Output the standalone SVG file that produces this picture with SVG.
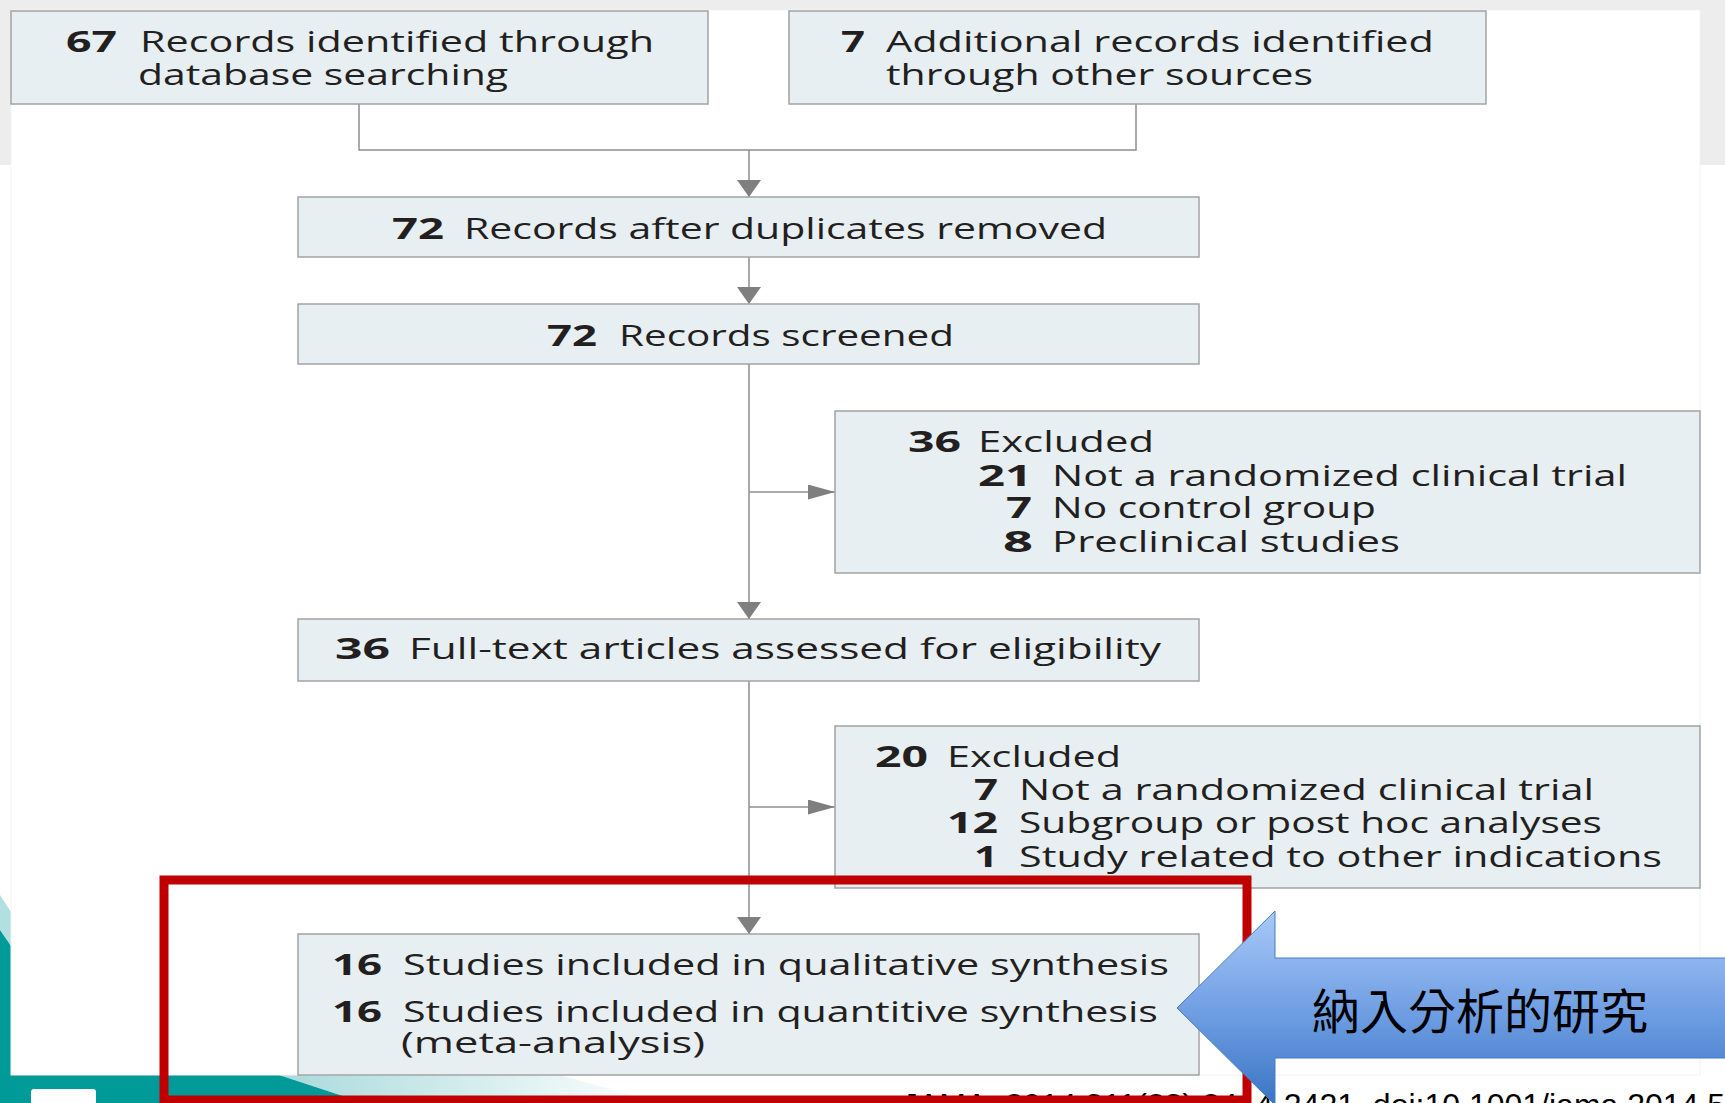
<svg xmlns="http://www.w3.org/2000/svg" width="1725" height="1103" viewBox="0 0 1725 1103">
<style>
.box{fill:#e8eff3;stroke:#a3a3a3;stroke-width:1.5}
.num{font-family:"Open Sans","Noto Sans",sans-serif;font-weight:bold;font-size:29px;fill:#231f20}
.txt{font-family:"Open Sans","Noto Sans",sans-serif;font-size:29px;fill:#231f20}
.conn{fill:none;stroke:#8e8e8e;stroke-width:1.5}
.cjk{font-family:"Noto Sans CJK TC","Noto Sans CJK SC",sans-serif;font-size:48px;fill:#000}
</style>
<defs>
<marker id="arrV" markerUnits="userSpaceOnUse" markerWidth="17" markerHeight="24" refX="17" refY="12" orient="auto"><path d="M0,0 L17,12 L0,24 Z" fill="#7f7f7f"/></marker>
<marker id="arrH" markerUnits="userSpaceOnUse" markerWidth="27" markerHeight="15" refX="27" refY="7.5" orient="auto"><path d="M0,0 L27,7.5 L0,15 Z" fill="#7f7f7f"/></marker>
<linearGradient id="blueG" x1="0" y1="0" x2="0" y2="1">
<stop offset="0" stop-color="#a8c9f8"/>
<stop offset="0.5" stop-color="#72a0e4"/>
<stop offset="1" stop-color="#3a74c4"/>
</linearGradient>
<linearGradient id="ltTeal" x1="0" y1="0" x2="1" y2="0">
<stop offset="0" stop-color="#a9dadb"/>
<stop offset="1" stop-color="#ffffff"/>
</linearGradient>
</defs>

<g id="background">
<rect x="0" y="0" width="1725" height="1103" fill="#ffffff"/>
<rect x="0" y="0" width="1725" height="165" fill="#ededed"/>
<polygon points="0,895 11,912 11,946 0,930" fill="#b2dfe0"/>
<polygon points="0,930 11,946 11,1075 0,1075" fill="#009a98"/>
<polygon points="279,1075 560,1075 660,1103 364,1103" fill="url(#ltTeal)"/>
<polygon points="0,1075 279,1075 364,1103 0,1103" fill="#009a98"/>
<rect x="31" y="1089" width="65" height="20" rx="3" fill="#ffffff"/>
<rect x="11" y="10" width="1689" height="1065" fill="#ffffff" stroke="#f3f3f3" stroke-width="1"/>
</g>

<g id="connectors">
<polyline class="conn" points="359,104 359,150 1136,150 1136,104"/>
<line class="conn" x1="749" y1="150" x2="749" y2="197" marker-end="url(#arrV)"/>
<line class="conn" x1="749" y1="257" x2="749" y2="304" marker-end="url(#arrV)"/>
<line class="conn" x1="749" y1="364" x2="749" y2="619" marker-end="url(#arrV)"/>
<line class="conn" x1="749" y1="492" x2="835" y2="492" marker-end="url(#arrH)"/>
<line class="conn" x1="749" y1="681" x2="749" y2="934" marker-end="url(#arrV)"/>
<line class="conn" x1="749" y1="807" x2="835" y2="807" marker-end="url(#arrH)"/>
</g>

<g id="n1">
<rect class="box" x="11" y="11" width="697" height="93"/>
<text class="num" x="66" y="52" textLength="51" lengthAdjust="spacingAndGlyphs">67</text>
<text class="txt" x="140" y="52" textLength="514" lengthAdjust="spacingAndGlyphs">Records identified through</text>
<text class="txt" x="138" y="85" textLength="370" lengthAdjust="spacingAndGlyphs">database searching</text>
</g>
<g id="n2">
<rect class="box" x="789" y="11" width="697" height="93"/>
<text class="num" x="841" y="52" textLength="24" lengthAdjust="spacingAndGlyphs">7</text>
<text class="txt" x="886" y="52" textLength="548" lengthAdjust="spacingAndGlyphs">Additional records identified</text>
<text class="txt" x="886" y="85" textLength="427" lengthAdjust="spacingAndGlyphs">through other sources</text>
</g>
<g id="n3">
<rect class="box" x="298" y="197" width="901" height="60"/>
<text class="num" x="392" y="239" textLength="52" lengthAdjust="spacingAndGlyphs">72</text>
<text class="txt" x="464" y="239" textLength="643" lengthAdjust="spacingAndGlyphs">Records after duplicates removed</text>
</g>
<g id="n4">
<rect class="box" x="298" y="304" width="901" height="60"/>
<text class="num" x="547" y="346" textLength="50" lengthAdjust="spacingAndGlyphs">72</text>
<text class="txt" x="619" y="346" textLength="335" lengthAdjust="spacingAndGlyphs">Records screened</text>
</g>
<g id="n5">
<rect class="box" x="835" y="411" width="865" height="162"/>
<text class="num" x="908" y="452" textLength="53" lengthAdjust="spacingAndGlyphs">36</text>
<text class="txt" x="978" y="452" textLength="176" lengthAdjust="spacingAndGlyphs">Excluded</text>
<text class="num" x="978" y="486" textLength="54" lengthAdjust="spacingAndGlyphs">21</text>
<text class="txt" x="1052" y="486" textLength="575" lengthAdjust="spacingAndGlyphs">Not a randomized clinical trial</text>
<text class="num" x="1006" y="518" textLength="26" lengthAdjust="spacingAndGlyphs">7</text>
<text class="txt" x="1052" y="518" textLength="324" lengthAdjust="spacingAndGlyphs">No control group</text>
<text class="num" x="1003" y="552" textLength="30" lengthAdjust="spacingAndGlyphs">8</text>
<text class="txt" x="1052" y="552" textLength="348" lengthAdjust="spacingAndGlyphs">Preclinical studies</text>
</g>
<g id="n6">
<rect class="box" x="298" y="619" width="901" height="62"/>
<text class="num" x="335" y="659" textLength="55" lengthAdjust="spacingAndGlyphs">36</text>
<text class="txt" x="409" y="659" textLength="752" lengthAdjust="spacingAndGlyphs">Full-text articles assessed for eligibility</text>
</g>
<g id="n7">
<rect class="box" x="835" y="726" width="865" height="162"/>
<text class="num" x="875" y="767" textLength="53" lengthAdjust="spacingAndGlyphs">20</text>
<text class="txt" x="947" y="767" textLength="174" lengthAdjust="spacingAndGlyphs">Excluded</text>
<text class="num" x="974" y="800" textLength="24" lengthAdjust="spacingAndGlyphs">7</text>
<text class="txt" x="1019" y="800" textLength="575" lengthAdjust="spacingAndGlyphs">Not a randomized clinical trial</text>
<text class="num" x="947" y="833" textLength="51" lengthAdjust="spacingAndGlyphs">12</text>
<text class="txt" x="1019" y="833" textLength="583" lengthAdjust="spacingAndGlyphs">Subgroup or post hoc analyses</text>
<text class="num" x="974" y="867" textLength="24" lengthAdjust="spacingAndGlyphs">1</text>
<text class="txt" x="1019" y="867" textLength="643" lengthAdjust="spacingAndGlyphs">Study related to other indications</text>
</g>
<g id="n8">
<rect class="box" x="298" y="934" width="901" height="141"/>
<text class="num" x="332" y="975" textLength="50" lengthAdjust="spacingAndGlyphs">16</text>
<text class="txt" x="403" y="975" textLength="766" lengthAdjust="spacingAndGlyphs">Studies included in qualitative synthesis</text>
<text class="num" x="332" y="1022" textLength="50" lengthAdjust="spacingAndGlyphs">16</text>
<text class="txt" x="403" y="1022" textLength="755" lengthAdjust="spacingAndGlyphs">Studies included in quantitive synthesis</text>
<text class="txt" x="401" y="1053" textLength="304" lengthAdjust="spacingAndGlyphs">(meta-analysis)</text>
</g>

<g id="citation">
<text x="902" y="1116" font-family="'Liberation Sans',Arial,sans-serif" font-size="32" fill="#000">JAMA. 2014;311(23):2414-2421. doi:10.1001/jama.2014.5</text>
</g>

<g id="highlight">
<rect x="164" y="880" width="1083" height="220" fill="none" stroke="#c00000" stroke-width="9"/>
</g>

<g id="callout">
<path d="M1177,1008 L1275,911 L1275,958 L1740,958 L1740,1058 L1275,1058 L1275,1105 Z" fill="url(#blueG)" stroke="#4a7dc0" stroke-width="1"/>
<text class="cjk" x="1312" y="1029">納入分析的研究</text>
</g>
</svg>
